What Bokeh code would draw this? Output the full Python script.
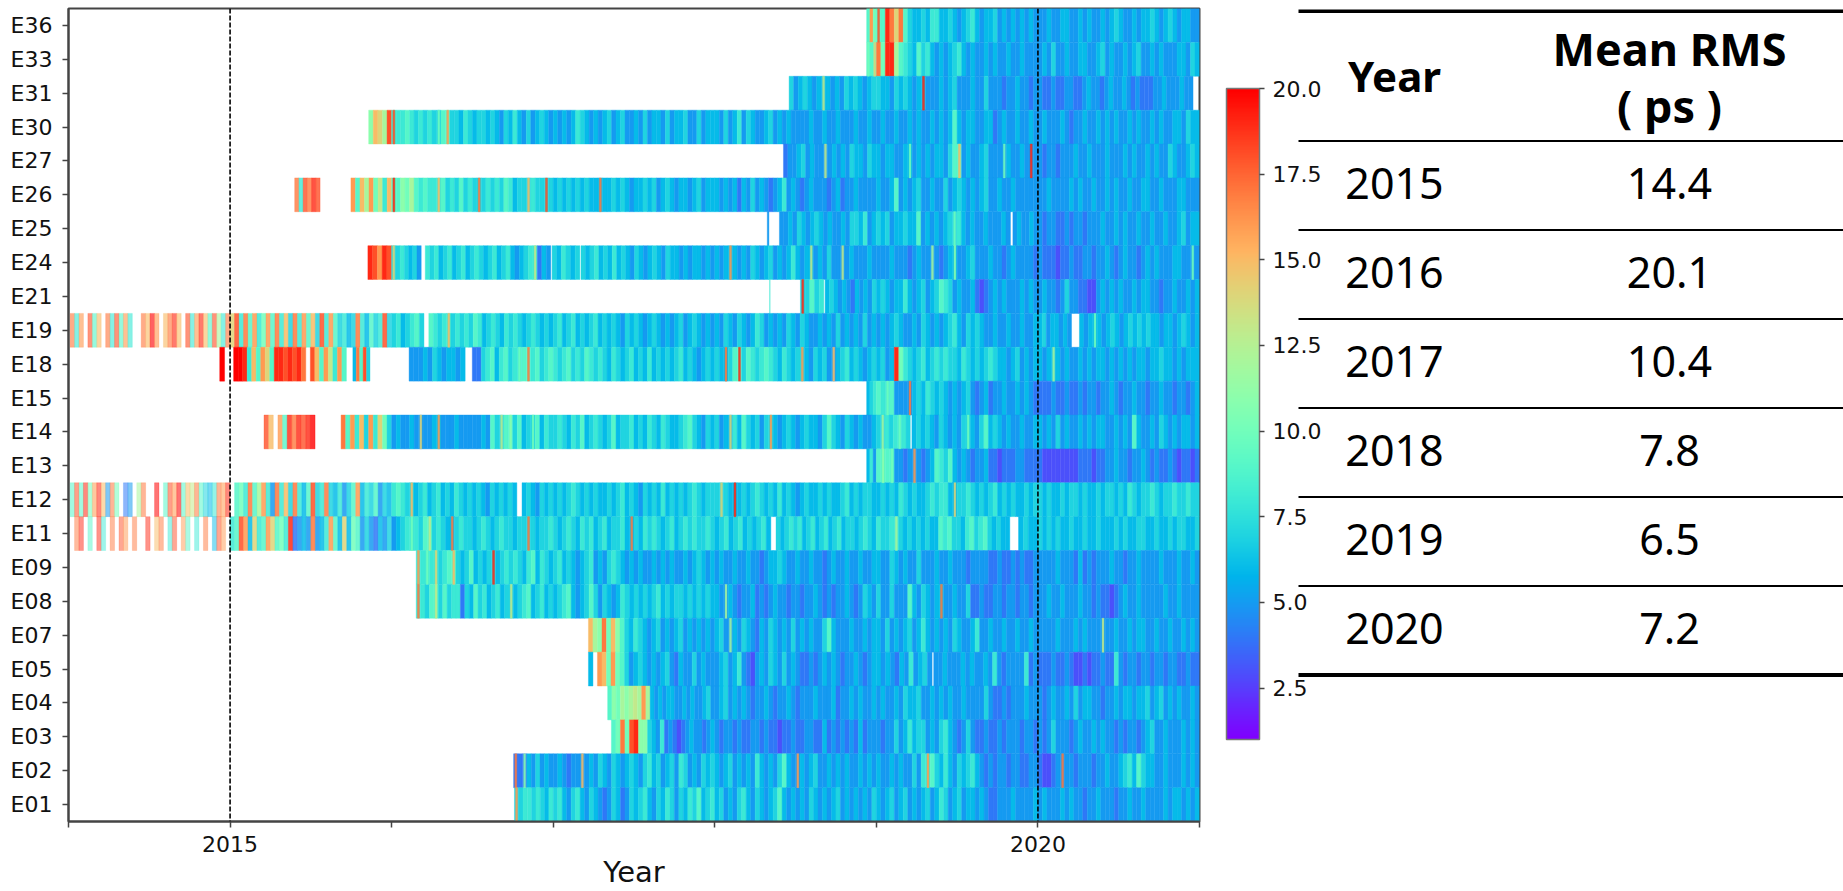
from bokeh.core.properties import value
from bokeh.embed import file_html
from bokeh.layouts import row
from bokeh.models import (ColorBar, ColumnDataSource, FixedTicker, LinearColorMapper,
                          PrintfTickFormatter, Range1d, Span)
from bokeh.plotting import figure
from bokeh.resources import INLINE
from bokeh.transform import transform
import numpy as np

ROW_NAMES = ["E36", "E33", "E31", "E30", "E27", "E26", "E25", "E24", "E21", "E19", "E18", "E15",
             "E14", "E13", "E12", "E11", "E09", "E08", "E07", "E05", "E04", "E03", "E02", "E01"]
YEAR_TICKS = [2014, 2015, 2016, 2017, 2018, 2019, 2020, 2021]
YEAR_LABELS = {2015: "2015", 2020: "2020"}
MARKED_YEARS = [2015, 2020]
CBAR_TICKS = [2.5, 5.0, 7.5, 10.0, 12.5, 15.0, 17.5, 20.0]
VMIN, VMAX = 1.0, 20.0
TABLE_YEARS = ["2015", "2016", "2017", "2018", "2019", "2020"]
TABLE_RMS = ["14.4", "20.1", "10.4", "7.8", "6.5", "7.2"]

# Each series: (from date, to date, RMS values read along that stretch)
E36 = [(2018.94, 2019, [9,16,10]),
 (2019, 2020, [18,9,19,17,14,17,9,7,6,6,7,6,8,8,6,6,7,6,5,6,7,8,6,5,6,6,7,5,6,5,6,5,6,5,6,5]),
 (2020, 2021, [5,5,6,5,5,6,6,5,5,6,5,6,5,5,6,5,6,7,6,5,5,6,5,6,6,7,6,5,6,7,6,5,6,6,5,5])]
E33 = [(2018.94, 2019, [10,9,14]),
 (2019, 2020, [17,10,19,19,12,9,8,7,6,9,7,8,6,5,6,5,6,7,8,6,5,6,5,5,6,5,6,5,5,6,5,5,6,5,5,5]),
 (2020, 2021, [5,6,5,7,5,5,6,5,5,6,6,5,5,6,7,5,6,5,5,6,5,6,7,5,5,6,5,6,5,5,5,6,6,5,7,6])]
E31 = [(2018.46, 2019, [7,5,6,7,6,5,6,13,6,5,6,5,7,6,7,6,5,6,7]),
 (2019, 2020, [7,6,6,5,7,6,7,6,5,6,19,5,5,5,6,5,6,7,5,5,5,6,5,5,7,5,5,5,4,5,5,6,5,5,4,5]),
 (2020, 2020.96, [5,4,4,5,4,4,5,5,4,4,5,6,5,5,4,5,6,5,5,6,5,4,5,4,4,4,5,5,6,5,5,5,6,5,5])]
E30 = [(2015.858, 2016, [11,15,14,12,18]),
 (2016, 2017, [18,8,8,9,8,7,8,7,8,7,10,9,16,7,7,6,8,7,6,7,7,6,7,6,5,7,6,8,6,5,7,5,6,7,6,5]),
 (2017, 2018, [6,5,6,5,6,8,7,6,5,6,5,6,7,5,6,7,5,5,6,5,7,5,6,6,5,7,5,6,6,7,5,5,7,5,6,6]),
 (2018, 2019, [6,5,7,5,6,8,5,7,6,5,5,6,7,5,6,5,6,5,5,5,5,6,5,5,6,5,5,6,5,5,5,6,5,5,6,5]),
 (2019, 2020, [5,6,5,5,6,5,5,6,5,6,5,5,6,5,6,5,6,9,6,5,6,6,5,5,6,6,4,5,6,5,5,6,5,5,6,5]),
 (2020, 2021, [5,6,5,5,5,6,5,4,5,5,6,5,5,6,5,6,5,6,5,5,6,5,6,5,5,6,5,6,5,5,6,6,5,7,6,6])]
E27 = [(2018.425, 2019, [4,5,5,6,7,5,6,5,5,13,5,6,5,6,5,7,6,6,5,7,6]),
 (2019, 2020, [6,5,6,6,5,5,6,10,5,6,5,6,5,6,6,5,7,9,15,5,6,5,5,6,7,5,5,5,10,6,5,5,6,5,19,5]),
 (2020, 2021, [5,4,5,5,4,5,5,5,6,5,5,6,5,5,5,6,5,5,5,6,5,6,5,5,6,5,6,5,5,7,6,5,5,6,7,6])]
E26 = [(2015.4, 2015.557, [17,8,18,17,19,18]),
 (2015.748, 2016, [16,9,15,12,16,10,13,8,15]),
 (2016, 2017, [19,9,11,10,12,9,8,9,8,8,15,9,7,8,7,9,7,8,7,17,7,8,7,8,7,9,8,6,7,7,15,8,7,7,18,7]),
 (2017, 2018, [6,7,6,7,6,7,6,7,6,6,17,6,6,7,6,7,6,5,6,6,7,6,7,5,6,7,6,5,6,6,5,6,7,5,6,6]),
 (2018, 2019, [6,5,6,5,6,4,6,5,7,5,6,5,4,5,6,8,5,6,5,4,5,6,5,5,5,4,5,6,4,5,5,6,5,5,5,5]),
 (2019, 2020, [6,5,5,6,9,5,6,5,6,7,5,5,6,5,5,7,5,6,7,6,5,6,5,6,7,5,5,6,5,5,6,5,5,5,5,5]),
 (2020, 2021, [5,5,6,5,5,5,5,6,5,6,5,5,6,5,5,6,5,6,5,5,6,5,5,6,6,5,5,6,5,5,5,6,6,5,5,5])]
E25 = [(2018.325, 2018.335, [5]),
 (2018.4, 2019, [5,5,6,5,7,6,5,6,7,6,5,6,5,5,6,5,7,7,6,8,5,6]),
 (2019, 2019.83, [7,6,7,5,6,6,7,6,6,9,5,6,5,6,5,6,7,10,8,6,5,6,5,5,6,5,5,5,6,5]),
 (2019.845, 2020, [5,6,5,5,6,5]),
 (2020, 2021, [5,4,5,5,4,4,5,4,5,5,4,5,5,5,6,5,5,6,5,6,5,5,6,5,5,6,5,5,6,5,5,6,7,5,6,6])]
E24 = [(2015.853, 2016, [19,18,16,19,18]),
 (2016, 2016.183, [14,7,8,7,6,7,5]),
 (2016.208, 2016.985, [8,7,8,6,7,8,6,7,8,6,7,8,7,6,7,8,6,7,8,6,5,6,7,8,13,4,6,5]),
 (2016.993, 2017.165, [7,6,8,7,6,7]),
 (2017.172, 2018, [7,6,7,8,6,7,6,8,6,7,6,5,7,6,5,6,7,6,5,7,6,6,5,6,5,6,6,5,6,5]),
 (2018, 2019, [6,5,6,16,6,5,6,5,7,6,5,6,7,5,6,5,6,8,6,5,6,13,5,6,5,7,5,5,13,5,6,5,5,5,6,5]),
 (2019, 2020, [5,5,5,6,5,5,5,4,5,6,5,5,12,5,4,5,6,11,5,5,6,7,5,5,5,6,5,5,4,5,6,5,5,5,5,4]),
 (2020, 2021, [5,4,4,4,3,4,4,5,4,4,5,5,4,5,5,6,5,4,5,6,5,5,4,5,6,5,6,5,5,5,6,6,5,5,10,5])]
E21 = [(2018.34, 2018.342, [8]),
 (2018.53, 2018.675, [19,7,9,7,8]),
 (2018.683, 2019, [6,7,6,5,6,5,4,6,5,6,5,7]),
 (2019, 2020, [6,7,6,5,6,6,8,6,5,6,7,5,6,7,9,8,7,5,6,5,5,6,4,3,4,5,6,5,6,5,5,5,6,5,6,5]),
 (2020, 2021, [5,6,5,5,4,5,7,5,5,4,4,3,3,5,6,5,6,5,6,5,5,6,5,6,6,5,5,4,5,5,6,5,5,6,5,6])]
E19 = [(2014.01, 2015, [17,8,16,None,18,9,15,None,17,8,18,9,16,8,None,None,17,15,20,16,None,15,17,19,15,None,18,8,16,19,15,9,18,12,8,17]),
 (2015, 2016, [14,18,8,17,9,16,8,10,16,9,17,8,15,7,17,8,16,9,15,7,18,8,16,9,7,8,6,7,17,8,6,9,7,8,18,7]),
 (2016, 2016.2, [7,8,6,7,8,9,7]),
 (2016.23, 2017, [9,8,7,8,15,7,8,7,8,7,9,8,6,7,8,7,6,8,7,8,7,6,7,8,7,6,7,6]),
 (2017, 2018, [7,8,6,7,8,6,7,6,7,8,6,7,6,7,6,5,7,6,7,6,5,6,7,6,5,6,5,6,7,5,6,7,6,5,6,5]),
 (2018, 2019, [6,5,7,6,5,7,6,5,6,8,7,5,6,5,6,5,7,6,5,7,6,5,5,6,5,6,5,7,5,6,5,6,5,7,5,6]),
 (2019, 2020, [5,6,5,6,7,6,5,5,6,5,7,6,5,6,5,6,7,8,6,5,7,6,7,6,5,5,6,5,5,6,5,5,6,5,5,6]),
 (2020, 2020.208, [6,7,5,6,6,5,6,5]),
 (2020.257, 2021, [6,5,6,10,6,5,6,7,6,5,6,7,6,7,6,7,6,6,5,6,6,5,6,7,6,5,6])]
E18 = [(2014.936, 2014.966, [20]),
 (2015.022, 2015.72, [20,20,19,8,15,9,16,14,9,19,19,18,19,18,19,17,None,18,15,9,16,13,8,16,9]),
 (2015.76, 2015.866, [6,17,9,18,7]),
 (2016.108, 2016.455, [5,5,5,6,5,7,6,5,6,6,5,6]),
 (2016.499, 2017, [4,4,7,8,9,6,8,9,7,8,10,9,17,8,9,7,8,9]),
 (2017, 2018, [8,7,8,9,7,8,7,9,8,7,8,7,6,8,7,6,7,8,6,7,6,8,6,7,6,7,6,7,8,6,7,6,5,6,7,6]),
 (2018, 2019, [7,6,17,7,9,19,7,9,8,7,8,9,8,7,6,8,7,6,7,16,6,5,7,6,7,5,15,6,7,8,6,7,6,5,6,7]),
 (2019, 2020, [6,7,5,6,19,10,8,7,6,7,8,6,7,8,7,8,7,7,6,8,7,6,7,6,7,8,7,6,6,5,6,7,5,6,5,6]),
 (2020, 2021, [6,5,6,12,6,5,6,5,5,6,5,6,5,6,6,5,6,5,6,5,6,5,6,6,5,6,6,7,6,6,5,6,5,6,6,6])]
E15 = [(2018.94, 2019, [6,7,8]),
 (2019, 2020, [9,8,10,9,5,5,5,17,6,7,6,8,7,6,7,6,5,6,5,6,7,5,4,5,6,4,5,5,6,5,5,6,5,6,5,4]),
 (2020, 2021, [4,4,4,5,4,4,5,4,4,5,4,5,5,4,5,5,6,5,4,5,5,6,5,5,4,5,5,6,5,5,4,5,5,4,5,6])]
E14 = [(2015.21, 2015.526, [18,15,None,16,9,19,17,19,18,19,20]),
 (2015.687, 2016, [17,9,16,8,15,7,16,8,14,10,7]),
 (2016, 2017, [5,6,5,5,6,5,14,5,5,6,16,5,5,5,6,5,5,5,5,5,6,5,9,7,13,9,11,7,9,6,7,10,9,6,8,7]),
 (2017, 2018, [7,8,7,6,8,7,9,6,7,8,7,6,7,9,6,7,7,8,6,7,6,8,7,6,8,7,6,6,7,8,9,7,6,5,7,6]),
 (2018, 2019, [7,5,6,14,8,6,9,7,6,7,5,7,16,6,5,6,7,6,5,6,7,6,6,5,7,9,7,6,5,7,6,5,6,5,5,6]),
 (2019, 2019.21, [7,12,8,7,8,10,8,7]),
 (2019.22, 2020, [6,7,6,7,6,5,7,6,5,6,5,7,10,6,5,7,9,6,7,6,5,6,5,5,6,5,5,6]),
 (2020, 2021, [6,5,6,5,7,5,6,5,5,6,5,6,5,6,6,5,5,6,5,6,5,9,6,5,5,6,5,7,6,5,6,5,6,6,5,6])]
E13 = [(2018.94, 2019, [6,8,5]),
 (2019, 2020, [9,11,9,10,5,5,4,5,16,5,4,5,6,9,8,7,9,6,5,6,5,4,5,5,6,4,4,3,4,4,4,5,5,4,4,4]),
 (2020, 2021, [4,3,3,3,3,3,3,3,3,4,4,4,3,4,4,5,5,6,5,5,4,5,5,6,5,4,5,4,4,5,4,3,4,4,3,4])]
E12 = [(2014.01, 2015, [9,18,9,19,10,16,19,15,5,17,10,None,4,5,None,12,17,None,None,20,None,9,18,16,20,9,15,13,17,9,7,6,8,17,16,19]),
 (2015, 2016, [None,9,10,8,17,9,12,16,8,5,17,8,15,7,17,8,6,9,18,7,8,17,7,6,8,5,7,9,16,6,8,7,9,5,7,6]),
 (2016, 2016.775, [8,9,8,7,15,6,7,8,6,7,8,6,7,6,8,7,6,7,6,7,6,5,7,6,7,6,7,6]),
 (2016.807, 2017, [6,7,6,5,7,6,7]),
 (2017, 2018, [6,7,6,7,8,7,6,7,6,7,6,6,7,6,7,8,6,7,6,5,7,6,7,6,8,6,7,6,7,6,7,8,7,6,7,7]),
 (2018, 2019, [7,14,7,6,19,6,7,6,7,8,7,6,7,6,8,6,7,6,5,6,7,6,6,7,6,7,6,6,7,8,6,7,6,7,7,6]),
 (2019, 2020, [6,7,6,7,6,8,7,6,7,6,6,7,8,7,8,8,6,14,7,7,8,7,6,7,6,7,8,6,7,6,7,6,6,7,6,7]),
 (2020, 2021, [7,6,7,6,6,7,6,7,7,6,7,6,6,7,6,7,7,6,7,6,8,7,6,7,7,8,7,6,7,7,8,7,7,8,7,7])]
E11 = [(2014.01, 2015, [None,17,19,None,9,None,19,8,None,17,None,18,16,None,17,None,None,19,None,15,17,None,8,18,None,16,9,None,8,None,17,None,6,18,16,None]),
 (2015, 2016, [8,9,18,16,6,14,8,9,16,14,9,10,8,19,4,5,6,5,17,5,6,8,16,9,6,14,6,10,9,5,7,5,4,6,5,7]),
 (2016, 2017, [5,6,7,8,10,8,7,9,13,7,8,7,6,17,7,8,7,7,6,7,8,7,6,7,8,7,7,6,7,7,17,7,6,7,7,8]),
 (2017, 2018, [7,6,7,8,7,6,8,7,8,6,7,8,6,7,7,8,6,17,7,6,8,7,8,7,6,7,8,6,7,8,7,8,7,7,8,7]),
 (2018, 2018.347, [6,7,8,6,7,8,6,7,6,7,8,6]),
 (2018.379, 2019, [7,6,7,8,7,8,6,7,8,6,7,8,6,7,8,6,7,7,6,7,8,7,6]),
 (2019, 2019.826, [8,7,7,8,12,7,6,7,6,7,6,7,6,6,9,8,9,7,7,6,8,9,7,8,9,7,6,7,6,6]),
 (2019.88, 2020, [6,7,6,6]),
 (2020, 2021, [7,6,7,6,7,6,6,7,6,6,7,6,6,7,6,6,6,7,6,7,6,6,7,7,6,6,7,6,6,7,6,7,7,6,6,7])]
E09 = [(2016.152, 2017, [16,8,10,8,14,7,8,9,15,7,6,7,9,6,7,6,7,19,6,7,8,7,8,7,6,8,9,6,8,7,6]),
 (2017, 2018, [7,8,6,7,6,5,6,7,8,5,6,5,7,8,7,6,5,6,5,6,5,5,6,5,6,5,6,5,5,6,5,6,7,6,5,6]),
 (2018, 2019, [5,6,5,5,6,5,5,6,5,5,4,5,6,6,7,6,5,5,6,5,5,6,5,5,4,5,6,5,5,6,5,5,6,5,5,6]),
 (2019, 2020, [6,5,5,7,6,5,6,5,5,7,5,5,5,6,5,5,6,5,5,5,4,5,5,5,5,4,4,5,4,4,5,4,5,4,4,5]),
 (2020, 2021, [5,5,5,5,6,5,5,5,4,6,4,5,4,5,5,5,6,5,5,4,5,5,6,5,5,5,5,6,5,5,5,6,5,5,6,5])]
E08 = [(2016.152, 2017, [17,8,7,9,13,7,9,7,8,8,4,7,6,9,7,8,6,7,8,6,7,13,6,7,8,9,6,7,8,6,7]),
 (2017, 2018, [6,7,8,9,6,5,6,7,9,7,5,7,6,5,6,8,7,6,7,6,7,6,7,8,6,7,6,7,7,6,7,6,7,6,7,6]),
 (2018, 2019, [6,5,12,6,5,4,5,5,6,4,5,4,5,6,5,5,4,5,5,4,5,5,6,5,4,5,4,5,5,6,5,4,5,7,6,5]),
 (2019, 2020, [7,5,5,7,5,5,5,9,6,5,7,6,5,6,17,5,5,6,5,5,7,4,4,5,4,4,5,5,4,5,5,4,5,5,4,5]),
 (2020, 2021, [5,5,6,5,5,6,5,5,5,6,5,5,4,5,4,4,3,4,5,6,5,5,6,5,5,5,5,5,6,5,5,6,5,5,5,5])]
E07 = [(2017.218, 2018, [15,12,11,17,10,15,11,9,7,6,8,7,6,5,6,7,5,6,5,6,7,5,6,5,6,5,6,5]),
 (2018, 2019, [6,7,5,12,6,5,7,6,5,4,6,5,7,6,5,6,5,7,5,6,5,6,5,5,7,9,6,5,5,5,6,5,5,6,5,6]),
 (2019, 2020, [6,5,7,5,6,5,6,7,5,6,8,6,5,6,5,6,5,7,6,5,5,6,8,5,5,6,5,5,6,5,5,6,5,5,6,5]),
 (2020, 2021, [5,5,5,5,6,5,5,5,6,5,6,5,5,5,13,5,5,6,5,5,6,5,6,6,5,5,6,5,5,6,5,5,6,5,6,5])]
E05 = [(2017.218, 2018, [6,None,16,15,10,16,10,9,7,5,6,7,6,5,6,5,6,7,5,4,6,5,5,7,5,6,5,5]),
 (2018, 2019, [5,6,7,5,6,8,5,4,3,5,6,5,7,6,5,7,5,6,5,4,4,5,4,5,6,5,6,5,4,5,5,6,5,4,5,6]),
 (2019, 2019.345, [6,5,6,5,4,6,5,8,5,6,7,5]),
 (2019.355, 2020, [5,5,6,5,5,5,6,5,6,5,5,6,5,8,5,4,5,5,5,5,8,4,5]),
 (2020, 2021, [4,4,4,5,4,4,5,4,3,3,4,3,4,4,5,4,4,8,5,4,5,5,4,5,5,4,5,5,4,5,5,4,4,5,4,4])]
E04 = [(2017.337, 2017.6, [9,11,10,12,11,12,13,12,16,12]),
 (2017.6, 2018, [6,5,6,5,6,6,5,5,6,5,6,5,5,6,7,5]),
 (2018, 2019, [5,6,7,5,6,5,6,5,4,5,5,6,5,4,5,5,6,5,4,5,5,5,6,5,5,5,6,4,5,5,6,5,6,5,5,6]),
 (2019, 2020, [5,6,5,5,6,5,7,6,6,7,5,5,6,5,6,5,6,5,5,6,5,5,5,5,7,5,4,4,5,4,5,5,5,6,5,5]),
 (2020, 2021, [5,4,5,6,5,5,6,5,7,5,6,6,5,5,4,5,5,6,5,6,6,5,6,6,7,5,6,7,5,6,5,6,5,5,6,5])]
E03 = [(2017.36, 2017.584, [9,10,17,10,18,19,11,11]),
 (2017.584, 2018, [7,6,5,8,4,5,4,3,4,5,6,5,5,4,5,6]),
 (2018, 2019, [5,4,5,5,4,5,4,4,5,5,4,5,4,4,3,4,4,5,4,4,5,5,4,4,6,4,5,4,5,4,5,4,6,4,5,5]),
 (2019, 2020, [5,4,5,5,7,5,6,8,6,7,7,5,6,5,7,8,6,5,4,5,7,5,4,4,5,4,4,5,4,5,5,5,4,5,5,4]),
 (2020, 2021, [5,4,5,7,5,5,5,4,5,6,5,5,6,5,6,5,5,4,5,4,5,5,4,5,6,7,5,5,6,5,5,5,6,5,6,5])]
E02 = [(2016.755, 2017, [17,4,11,6,5,7,5,6,5]),
 (2017, 2018, [5,6,5,4,5,5,15,5,6,5,7,6,5,7,6,5,6,7,6,5,7,8,6,7,5,6,7,5,8,7,5,6,5,7,6,7]),
 (2018, 2019, [6,5,6,7,5,6,5,6,5,8,6,5,6,5,7,9,6,5,16,6,5,6,7,5,5,6,5,6,5,6,5,5,6,5,6,5]),
 (2019, 2020, [6,5,5,6,5,6,5,5,7,5,8,16,9,7,6,8,6,5,7,6,7,8,6,5,4,5,4,5,5,4,5,5,4,4,5,5]),
 (2020, 2021, [4,3,3,4,5,17,5,5,4,5,5,5,4,5,5,6,5,5,6,7,8,6,9,7,6,6,5,5,6,5,5,5,6,5,6,5])]
E01 = [(2016.76, 2017, [16,7,8,8,7,8,7,6,8]),
 (2017, 2018, [7,8,6,5,7,8,6,5,7,6,5,4,5,7,6,4,5,7,6,7,8,6,5,7,6,8,7,5,7,6,8,7,9,6,7,8]),
 (2018, 2019, [6,7,5,6,5,7,8,6,5,7,6,5,6,7,9,6,5,6,5,6,5,7,6,5,6,5,6,7,5,6,5,6,5,6,5,7]),
 (2019, 2020, [6,5,6,7,5,6,7,5,6,5,6,7,5,6,8,7,5,6,7,5,6,6,5,6,5,4,4,5,5,5,6,5,5,5,5,6]),
 (2020, 2021, [5,6,5,5,5,6,5,6,5,5,4,5,5,6,5,5,5,4,5,5,6,5,5,6,5,5,5,5,6,5,6,6,5,6,5,6])]

# Stretches whose stripes look diluted by missing days: (row, from, to, share of days observed)
SPARSE = [("E19", 2014, 2015, 0.62), ("E12", 2014, 2015, 0.55), ("E11", 2014, 2015, 0.5),
          ("E26", 2015.4, 2015.56, 0.8), ("E14", 2015.2, 2015.53, 0.8), ("E19", 2015, 2016, 0.85),
          ("E12", 2015, 2016, 0.85), ("E11", 2015, 2016, 0.85)]

SERIES = [E36, E33, E31, E30, E27, E26, E25, E24, E21, E19, E18, E15,
          E14, E13, E12, E11, E09, E08, E07, E05, E04, E03, E02, E01]

# From 2016 on, an isolated high value is a spike of a day or two, not a whole stretch
SPIKE_FROM_DATE = 2016
SPIKE_LEVEL = 10
SPIKE_WIDTH_YEARS = 0.012


def rainbow(n=256):
    out = []
    for t in np.linspace(0, 1, n):
        r = abs(2 * t - 0.5)
        g = np.sin(np.pi * t)
        b = np.cos(np.pi * t / 2)
        out.append("#%02x%02x%02x" % (int(min(r, 1) * 255), int(g * 255), int(max(b, 0) * 255)))
    return out


mapper = LinearColorMapper(palette=rainbow(), low=VMIN, high=VMAX)

n_rows = len(ROW_NAMES)
cols = dict(left=[], right=[], bottom=[], top=[], val=[], alpha=[])


def add_cell(x0, x1, lane, v, a):
    cols["left"].append(x0); cols["right"].append(x1)
    cols["bottom"].append(lane); cols["top"].append(lane + 1)
    cols["val"].append(v); cols["alpha"].append(a)


spikes = []
for i, (name, segments) in enumerate(zip(ROW_NAMES, SERIES)):
    lane = n_rows - 1 - i
    for start, end, values in segments:
        edges = np.linspace(start, end, len(values) + 1)
        for j, v in enumerate(values):
            if v is None:
                continue
            a = 1.0
            for sname, s0, s1, share in SPARSE:
                if sname == name and s0 <= edges[j] < s1:
                    a = share
            prev_v = values[j - 1] if j > 0 else None
            next_v = values[j + 1] if j + 1 < len(values) else None
            isolated = (v >= SPIKE_LEVEL and edges[j] >= SPIKE_FROM_DATE
                        and (prev_v is None or prev_v < SPIKE_LEVEL)
                        and (next_v is None or next_v < SPIKE_LEVEL))
            if isolated:
                base = prev_v if prev_v is not None else (next_v if next_v is not None else 6)
                add_cell(edges[j], edges[j + 1], lane, base, a)
                mid = 0.5 * (edges[j] + edges[j + 1])
                spikes.append((mid - SPIKE_WIDTH_YEARS / 2, mid + SPIKE_WIDTH_YEARS / 2, lane, v))
            else:
                add_cell(edges[j], edges[j + 1], lane, v, a)
for x0, x1, lane, v in spikes:
    add_cell(x0, x1, lane, v, 0.85)
source = ColumnDataSource(cols)

FRAME = "#444444"
TICK_FONT = "22px"
PAGE_W, PAGE_H = 1843, 891
FRAME_L, FRAME_R, FRAME_T, FRAME_B = 68, 1199, 8, 822
MAIN_W = 1208
main = figure(width=MAIN_W, height=PAGE_H, x_range=Range1d(YEAR_TICKS[0], YEAR_TICKS[-1]),
              y_range=Range1d(0, n_rows), output_backend="svg", toolbar_location=None,
              min_border_left=FRAME_L, min_border_right=MAIN_W - FRAME_R,
              min_border_top=FRAME_T, min_border_bottom=PAGE_H - FRAME_B)
main.quad(left="left", right="right", bottom="bottom", top="top", source=source,
          fill_color=transform("val", mapper), fill_alpha="alpha",
          line_color=transform("val", mapper), line_alpha="alpha", line_width=0.4)
for yr in MARKED_YEARS:
    main.add_layout(Span(location=yr, dimension="height", line_color="black",
                         line_dash="5 2", line_width=1.6))
main.grid.visible = False
main.outline_line_color = FRAME
main.outline_line_width = 2
main.xaxis.ticker = FixedTicker(ticks=YEAR_TICKS)
main.xaxis.major_label_overrides = {y: YEAR_LABELS.get(y, "") for y in YEAR_TICKS}
main.xaxis.axis_label = "Year"
main.xaxis.axis_label_text_font = "DejaVu Sans"
main.xaxis.axis_label_text_font_style = "normal"
main.xaxis.axis_label_text_font_size = "29px"
main.xaxis.axis_label_text_color = "#111111"
main.xaxis.axis_label_standoff = 0
main.xaxis.major_label_standoff = 8
main.yaxis.ticker = FixedTicker(ticks=[k + 0.5 for k in range(n_rows)])
main.yaxis.major_label_overrides = {n_rows - 1 - k + 0.5: nm for k, nm in enumerate(ROW_NAMES)}
main.yaxis.major_label_standoff = 10
for ax in (main.xaxis, main.yaxis):
    ax.major_label_text_font = "DejaVu Sans"
    ax.major_label_text_font_size = TICK_FONT
    ax.major_label_text_color = "#111111"
    ax.axis_line_color = FRAME
    ax.axis_line_width = 2
    ax.major_tick_line_color = FRAME
    ax.major_tick_line_width = 1.5
    ax.major_tick_in = 0
    ax.major_tick_out = 6
    ax.minor_tick_line_color = None

# Right-hand panel; the row aligns its frame with the main frame, so its range is in page pixels
PANEL_X0, PANEL_X1 = MAIN_W, PAGE_W
panel = figure(width=PANEL_X1 - PANEL_X0, height=PAGE_H,
               x_range=Range1d(PANEL_X0, PANEL_X1), y_range=Range1d(FRAME_B, FRAME_T),
               output_backend="svg", toolbar_location=None,
               min_border_left=0, min_border_right=0, min_border_top=FRAME_T,
               min_border_bottom=PAGE_H - FRAME_B)
panel.axis.visible = False
panel.grid.visible = False
panel.outline_line_color = None

CBAR_TOP, CBAR_BOTTOM, CBAR_LEFT = 89, 740, 1226
cbar = ColorBar(color_mapper=mapper, width=33, height=CBAR_BOTTOM - CBAR_TOP,
                location=(CBAR_LEFT - PANEL_X0, FRAME_B - CBAR_BOTTOM),
                ticker=FixedTicker(ticks=CBAR_TICKS), formatter=PrintfTickFormatter(format="%.1f"),
                padding=0, margin=0, background_fill_alpha=0,
                bar_line_color="#777777", bar_line_width=1.5, border_line_color=None,
                major_tick_in=0, major_tick_out=5, major_tick_line_color="#444444",
                major_tick_line_width=1.5, minor_tick_line_color=None, label_standoff=8,
                major_label_text_font="DejaVu Sans", major_label_text_font_size=TICK_FONT,
                major_label_text_color="#111111")
panel.add_layout(cbar)

LINE_X0 = 1298
RULE_TOP = 10.7
RULE_HEAD = 140.7
ROW_STEP = 89.1
rules = [RULE_TOP, RULE_HEAD] + [RULE_HEAD + ROW_STEP * (k + 1) for k in range(len(TABLE_YEARS))]
widths = [3.6, 2] + [2] * (len(TABLE_YEARS) - 1) + [4]
panel.segment(x0=[LINE_X0] * len(rules), x1=[PANEL_X1] * len(rules), y0=rules, y1=rules,
              line_color="black", line_width=widths)
COL_YEAR, COL_RMS = 1394, 1669
ty = [RULE_HEAD + ROW_STEP * (k + 0.5) - 2 for k in range(len(TABLE_YEARS))]
panel.text(x=[COL_YEAR] * len(ty), y=ty, text=TABLE_YEARS, text_font=value("Noto Sans"),
           text_font_size="43px", text_align="center", text_baseline="middle", text_color="black")
panel.text(x=[COL_RMS] * len(ty), y=ty, text=TABLE_RMS, text_font=value("Noto Sans"),
           text_font_size="43px", text_align="center", text_baseline="middle", text_color="black")
panel.text(x=[COL_RMS, COL_RMS], y=[48, 105], text=["Mean RMS", "( ps )"],
           text_font=value("Noto Sans"), text_font_style="bold", text_font_size="45px",
           text_align="center", text_baseline="middle", text_color="black")
panel.text(x=[COL_YEAR], y=[75], text=["Year"],
           text_font=value("Noto Sans"), text_font_style="bold", text_font_size="42px",
           text_align="center", text_baseline="middle", text_color="black")

layout = row(main, panel, spacing=0)
open("out.html", "w").write(file_html(layout, INLINE))
